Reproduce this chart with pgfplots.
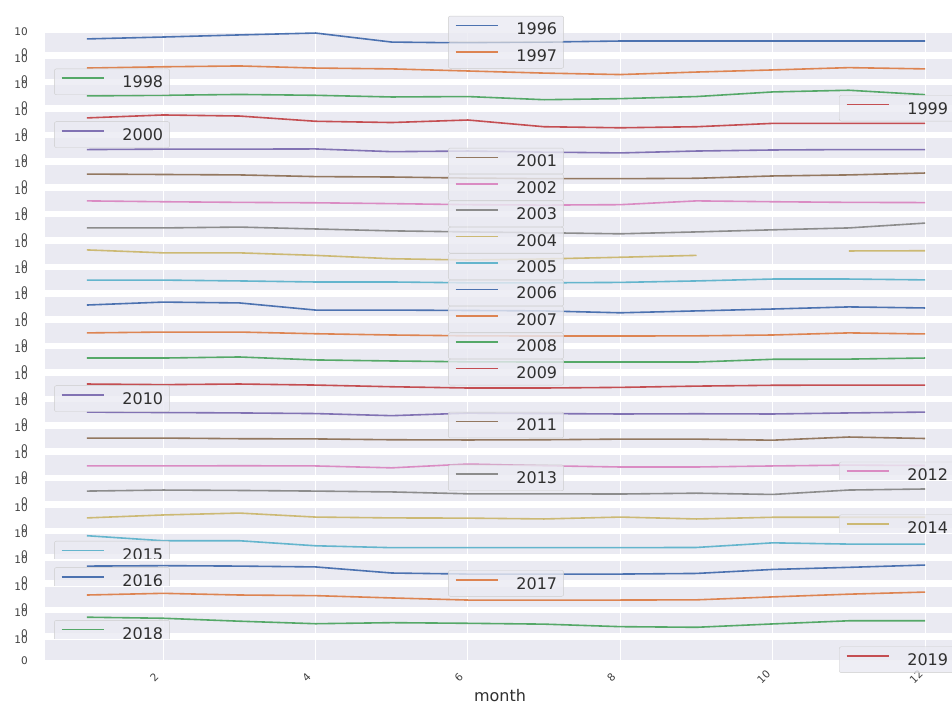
\documentclass[border=0pt]{standalone}
\usepackage{pgfplots}
\pgfplotsset{compat=1.18}
\usepackage{fontspec}
\setmainfont{DejaVu Sans}
\definecolor{bgcol}{HTML}{EAEAF2}
\definecolor{edgecol}{HTML}{CCCCCC}
\definecolor{txt}{HTML}{404040}
\definecolor{ltxt}{HTML}{303030}
\definecolor{c0}{HTML}{4C72B0}
\definecolor{c1}{HTML}{DD8452}
\definecolor{c2}{HTML}{55A868}
\definecolor{c3}{HTML}{C44E52}
\definecolor{c4}{HTML}{8172B3}
\definecolor{c5}{HTML}{937860}
\definecolor{c6}{HTML}{DA8BC3}
\definecolor{c7}{HTML}{8C8C8C}
\definecolor{c8}{HTML}{CCB974}
\definecolor{c9}{HTML}{64B5CD}
\pgfplotsset{
  panel/.style={
    scale only axis, width=922pt, height=21pt,
    xmin=0.45, xmax=12.55, ymin=0, ymax=10,
    xtick={2,4,6,8,10,12}, ytick={0,10}, xticklabels={},
    axis background/.style={fill=bgcol},
    axis line style={draw=none},
    major tick length=0pt,
    grid=major, grid style={white, line width=1.1pt},
    tick label style={font=\fontsize{10.5}{12}\selectfont, text=txt},
    /pgf/number format/assume math mode=true,
    yticklabel style={anchor=east, inner sep=0pt, xshift=-17pt},
    unbounded coords=jump,
    legend style={font=\fontsize{16}{18}\selectfont, text=ltxt,
      fill=bgcol, fill opacity=0.8, text opacity=1, draw=edgecol,
      rounded corners=2pt, inner xsep=6.5pt, inner ysep=7pt,
      nodes={inner sep=0pt, text depth=0pt}},
    legend cell align=left,
    legend image code/.code={\draw[##1, line width=1.6pt] (0pt,0.36em) -- (42pt,0.36em);},
    /tikz/every odd column/.append style={column sep=18pt},
    every axis plot/.append style={line width=1.6pt},
  }
}
% #1 top (tikz y, pt), #2 year, #3 colour, #4 legend x frac, #5 legend y frac, #6 coordinates
\newcommand{\panel}[6]{%
\begin{axis}[panel, at={(45pt,#1pt)}, anchor=north west,
  legend style={at={(axis description cs:#4,#5)}, anchor=center}]
\addplot[color=#3] coordinates {#6};
\addlegendentry{#2}
\end{axis}}
\begin{document}
\begin{tikzpicture}
\path[use as bounding box] (0,0) rectangle (952pt,704pt);
\clip (0,0) rectangle (952pt,704pt);
\panel{672}{1996}{c0}{0.5}{1.143}{(1,6.7)(2,7.6)(3,8.6)(4,9.5)(5,5.2)(6,4.8)(7,5.2)(8,5.7)(9,5.7)(10,5.7)(11,5.7)(12,5.7)}
\panel{645.6}{1997}{c1}{0.5}{1.143}{(1,5.4)(2,6.0)(3,6.4)(4,5.4)(5,5.0)(6,4.0)(7,3.0)(8,2.3)(9,3.5)(10,4.5)(11,5.6)(12,5.0)}
\panel{619.2}{1998}{c2}{0.0727}{1.143}{(1,4.7)(2,5.0)(3,5.4)(4,5.0)(5,4.2)(6,4.4)(7,2.9)(8,3.4)(9,4.4)(10,6.6)(11,7.4)(12,5.3)}
\panel{592.8}{1999}{c3}{0.924}{1.143}{(1,6.8)(2,8.2)(3,7.7)(4,5.2)(5,4.6)(6,5.8)(7,2.6)(8,2.1)(9,2.6)(10,4.2)(11,4.2)(12,4.2)}
\panel{566.4}{2000}{c4}{0.0727}{1.143}{(1,4.3)(2,4.5)(3,4.5)(4,4.6)(5,3.3)(6,3.6)(7,3.1)(8,2.7)(9,3.6)(10,4.1)(11,4.3)(12,4.3)}
\panel{540}{2001}{c5}{0.5}{1.143}{(1,5.2)(2,5.0)(3,4.8)(4,4.0)(5,3.8)(6,3.3)(7,3.0)(8,3.0)(9,3.2)(10,4.3)(11,4.8)(12,5.7)}
\panel{513.6}{2002}{c6}{0.5}{1.143}{(1,5.0)(2,4.6)(3,4.3)(4,4.1)(5,3.7)(6,3.2)(7,3.0)(8,3.2)(9,5.0)(10,4.6)(11,4.3)(12,4.2)}
\panel{487.2}{2003}{c7}{0.5}{1.143}{(1,4.7)(2,4.7)(3,5.1)(4,4.2)(5,3.3)(6,2.8)(7,2.4)(8,1.9)(9,2.8)(10,3.8)(11,4.7)(12,7.0)}
\panel{460.8}{2004}{c8}{0.5}{1.143}{(1,6.8)(2,5.4)(3,5.4)(4,4.2)(5,2.6)(6,2.0)(7,2.5)(8,3.3)(9,4.2)(10,nan)(11,6.3)(12,6.4)}
\panel{434.4}{2005}{c9}{0.5}{1.143}{(1,5.0)(2,5.0)(3,4.6)(4,4.1)(5,4.1)(6,3.7)(7,3.7)(8,3.9)(9,4.6)(10,5.5)(11,5.5)(12,5.1)}
\panel{408}{2006}{c0}{0.5}{1.143}{(1,5.7)(2,7.1)(3,6.7)(4,3.3)(5,3.3)(6,3.1)(7,2.9)(8,2.0)(9,2.9)(10,3.8)(11,4.8)(12,4.3)}
\panel{381.6}{2007}{c1}{0.5}{1.143}{(1,5.0)(2,5.4)(3,5.4)(4,4.6)(5,4.0)(6,3.6)(7,3.5)(8,3.5)(9,3.6)(10,4.0)(11,5.0)(12,4.5)}
\panel{355.2}{2008}{c2}{0.5}{1.143}{(1,5.6)(2,5.6)(3,6.1)(4,4.7)(5,4.2)(6,3.8)(7,3.7)(8,3.7)(9,3.7)(10,5.0)(11,5.1)(12,5.6)}
\panel{328.8}{2009}{c3}{0.5}{1.143}{(1,5.8)(2,5.5)(3,5.8)(4,5.3)(5,4.5)(6,3.9)(7,3.9)(8,4.2)(9,4.8)(10,5.2)(11,5.3)(12,5.3)}
\panel{302.4}{2010}{c4}{0.0727}{1.143}{(1,5.0)(2,4.8)(3,4.6)(4,4.3)(5,3.3)(6,4.5)(7,4.3)(8,4.1)(9,4.2)(10,4.1)(11,4.6)(12,5.0)}
\panel{276}{2011}{c5}{0.5}{1.143}{(1,5.2)(2,5.2)(3,4.9)(4,4.8)(5,4.4)(6,4.3)(7,4.4)(8,4.7)(9,4.7)(10,4.2)(11,5.7)(12,5.0)}
\panel{249.6}{2012}{c6}{0.924}{0.024}{(1,4.5)(2,4.5)(3,4.6)(4,4.5)(5,3.6)(6,5.4)(7,4.6)(8,4.0)(9,4.0)(10,4.5)(11,4.9)(12,4.7)}
\panel{223.2}{2013}{c7}{0.5}{1.143}{(1,5.1)(2,5.6)(3,5.4)(4,5.1)(5,4.7)(6,3.8)(7,3.8)(8,3.7)(9,4.1)(10,3.5)(11,5.6)(12,6.1)}
\panel{196.8}{2014}{c8}{0.924}{0.024}{(1,4.9)(2,6.3)(3,7.2)(4,5.3)(5,4.9)(6,4.8)(7,4.4)(8,5.3)(9,4.4)(10,5.2)(11,5.2)(12,5.2)}
\panel{170.4}{2015}{c9}{0.0727}{0.024}{(1,9.0)(2,6.6)(3,6.6)(4,4.2)(5,3.3)(6,3.3)(7,3.3)(8,3.3)(9,3.4)(10,5.6)(11,5.0)(12,5.0)}
\panel{144}{2016}{c0}{0.0727}{0.024}{(1,7.1)(2,7.3)(3,7.1)(4,6.7)(5,3.8)(6,3.3)(7,3.3)(8,3.3)(9,3.6)(10,5.5)(11,6.5)(12,7.6)}
\panel{117.6}{2017}{c1}{0.5}{1.143}{(1,5.9)(2,6.7)(3,5.9)(4,5.6)(5,4.5)(6,3.5)(7,3.5)(8,3.5)(9,3.6)(10,5.0)(11,6.3)(12,7.3)}
\panel{91.2}{2018}{c2}{0.0727}{0.024}{(1,7.9)(2,7.4)(3,6.0)(4,4.8)(5,5.3)(6,5.0)(7,4.6)(8,3.4)(9,3.1)(10,4.7)(11,6.2)(12,6.2)}
\begin{axis}[panel, at={(45pt,64.8pt)}, anchor=north west,
  xticklabels={2,4,6,8,10,12},
  xticklabel style={anchor=center, xshift=-9pt, yshift=-17pt, rotate=45},
  xlabel={month},
  xlabel style={font=\fontsize{16}{18}\selectfont, text=ltxt, at={(axis description cs:0.5,0)}, anchor=center, xshift=-6pt, yshift=-35pt},
  legend style={at={(axis description cs:0.924,0.024)}, anchor=center}]
\addlegendimage{c3}
\addlegendentry{2019}
\end{axis}
\end{tikzpicture}
\end{document}
